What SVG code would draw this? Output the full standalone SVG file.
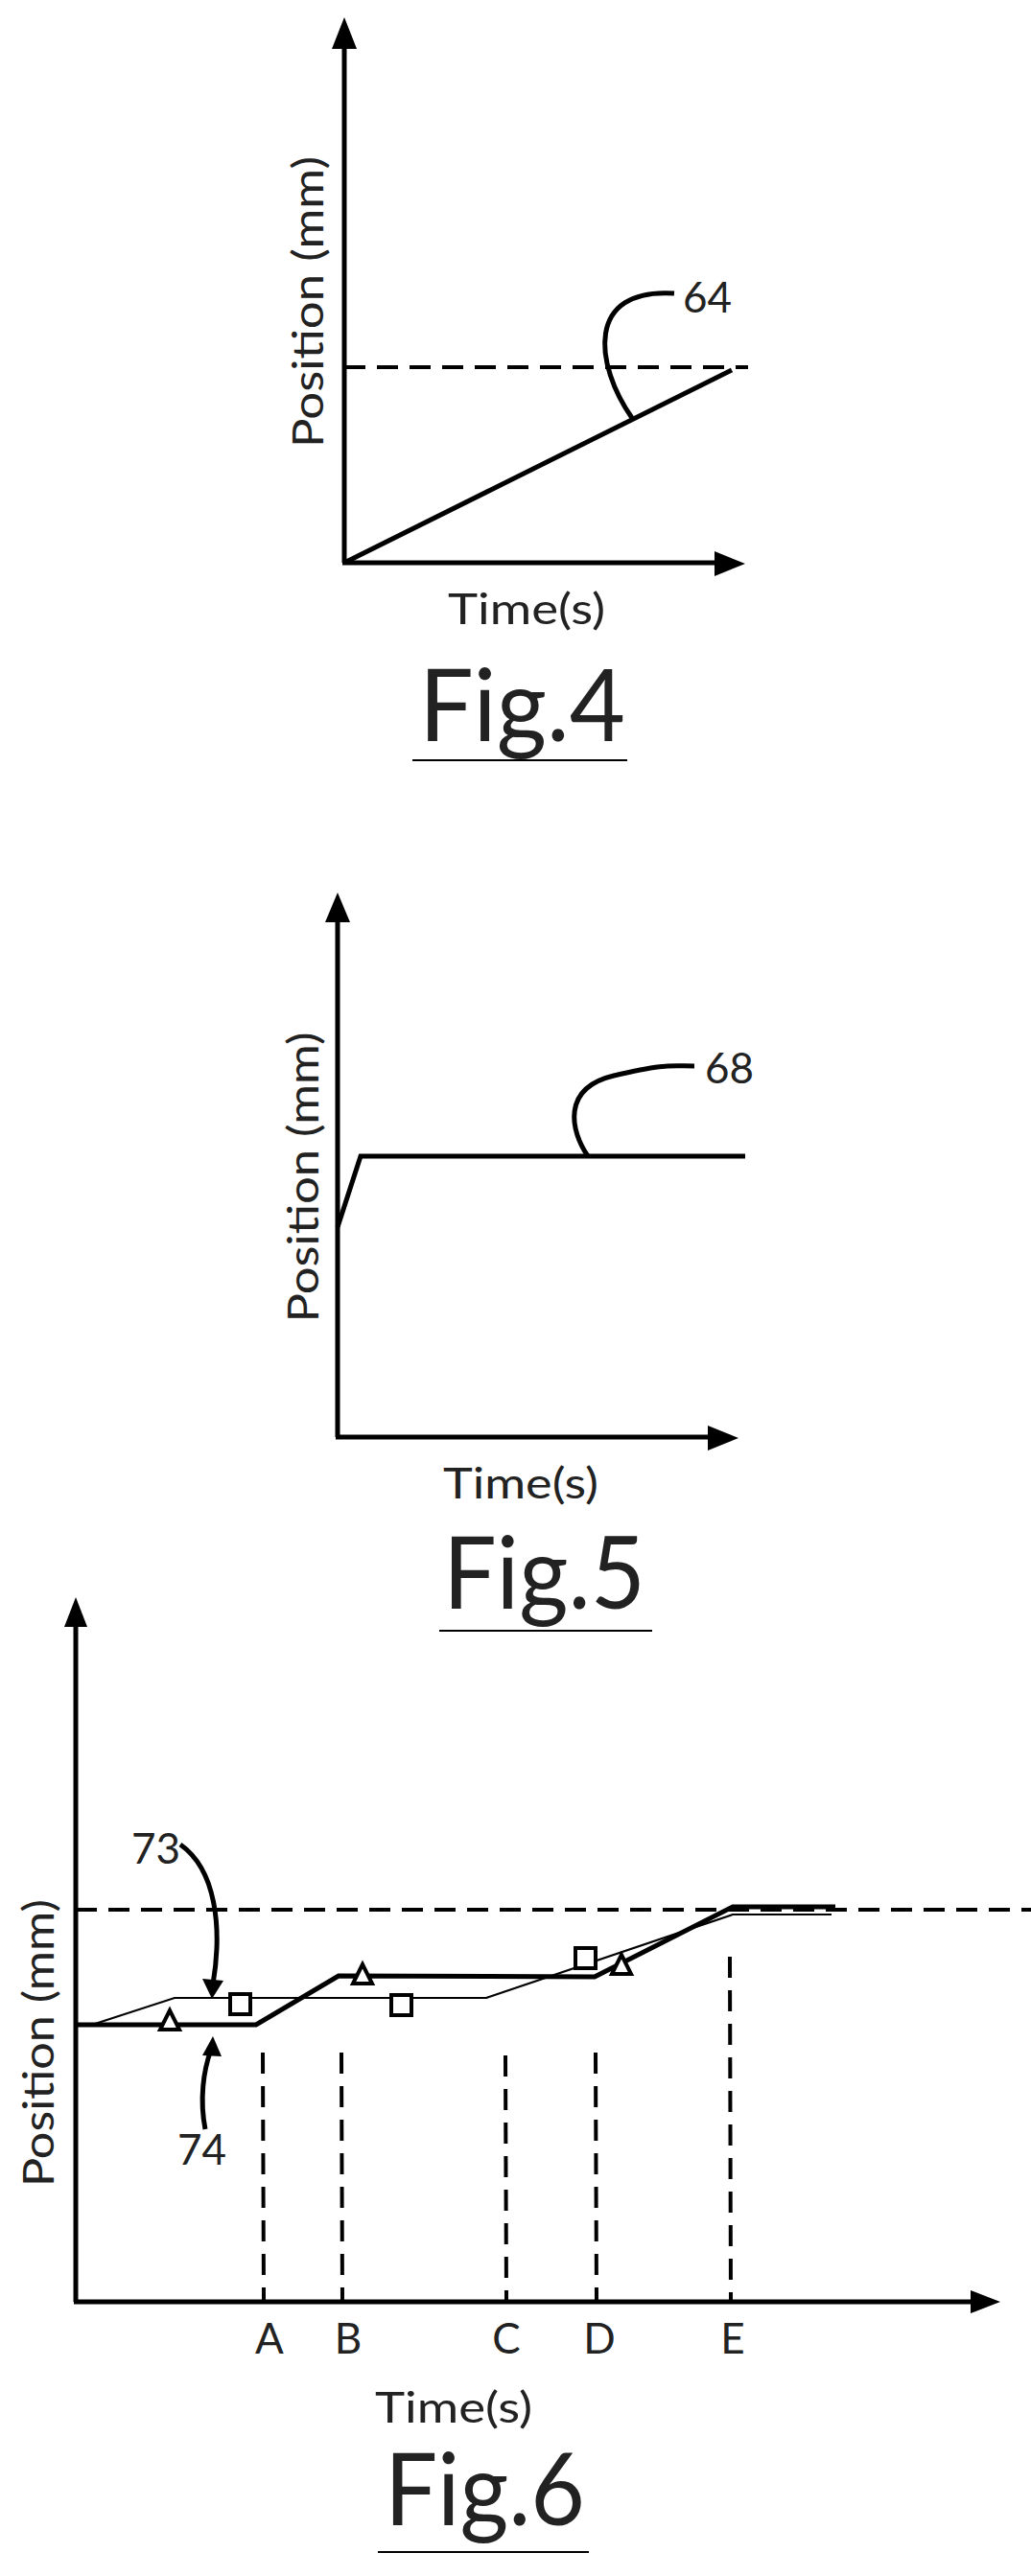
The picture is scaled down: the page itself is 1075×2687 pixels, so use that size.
<svg xmlns="http://www.w3.org/2000/svg" width="1075" height="2687" viewBox="0 0 1075 2687">
<style>
.ax{stroke:#000;stroke-width:5;fill:none}
.ln{stroke:#000;stroke-width:5;fill:none}
.thin{stroke:#000;stroke-width:2.2;fill:none}
.ds{stroke:#000;stroke-width:4;fill:none;stroke-dasharray:22 12}
.vd{stroke:#000;stroke-width:4;fill:none;stroke-dasharray:22 13}
.hd{fill:#000}
text{font-family:Lato,"Open Sans","Liberation Sans",sans-serif;fill:#222}
.lab{font-size:44px}
.fig{font-size:104px}
.mk{stroke:#000;stroke-width:4;fill:#fff}
</style>
<rect width="1075" height="2687" fill="#fff"/>
<g id="fig4">
<line class="ax" x1="359" y1="40" x2="359" y2="587"/>
<line class="ax" x1="357" y1="587" x2="755" y2="587"/>
<polygon class="hd" points="359,18 346,51 372,51"/>
<polygon class="hd" points="777,588 745,575 745,601"/>
<line class="ds" x1="359" y1="383" x2="780" y2="383"/>
<line class="ln" x1="359" y1="587" x2="763" y2="386"/>
<path class="ln" d="M659,436 C620,380 610,300 703,306"/>
<text class="lab" x="712" y="326">64</text>
<text class="lab" transform="translate(337,315) rotate(-90)" text-anchor="middle" textLength="304" lengthAdjust="spacingAndGlyphs">Position (mm)</text>
<text class="lab" x="467" y="651" textLength="164" lengthAdjust="spacingAndGlyphs">Time(s)</text>
<text class="fig" x="437" y="773" textLength="215" lengthAdjust="spacingAndGlyphs">Fig.4</text>
<line class="thin" x1="430" y1="793" x2="654" y2="793"/>
</g>
<g id="fig5">
<line class="ax" x1="352" y1="955" x2="352" y2="1499"/>
<line class="ax" x1="350" y1="1499" x2="750" y2="1499"/>
<polygon class="hd" points="352,931 339,962 365,962"/>
<polygon class="hd" points="770,1500 738,1487 738,1513"/>
<path class="ln" d="M352,1280 L376,1206 L777,1206"/>
<path class="ln" d="M613,1206 C595,1180 585,1135 640,1122 S700,1112 724,1112"/>
<text class="lab" x="735" y="1130">68</text>
<text class="lab" transform="translate(332,1228) rotate(-90)" text-anchor="middle" textLength="303" lengthAdjust="spacingAndGlyphs">Position (mm)</text>
<text class="lab" x="462" y="1563" textLength="162" lengthAdjust="spacingAndGlyphs">Time(s)</text>
<text class="fig" x="462" y="1678" textLength="211" lengthAdjust="spacingAndGlyphs">Fig.5</text>
<line class="thin" x1="458" y1="1701" x2="680" y2="1701"/>
</g>
<g id="fig6">
<line class="ax" x1="79" y1="1690" x2="79" y2="2401"/>
<line class="ax" x1="77" y1="2401" x2="1020" y2="2401"/>
<polygon class="hd" points="79,1666 67,1697 91,1697"/>
<polygon class="hd" points="1043,2401 1012,2389 1012,2413"/>
<line class="ds" x1="79" y1="1992" x2="1075" y2="1992"/>
<path class="ln" d="M79,2112 L267,2112 L353,2061 L620,2062 L764,1989 L871,1989"/>
<path class="thin" d="M96,2112 L182,2084 L507,2084 L764,1997 L867,1997"/>
<line class="vd" x1="274" y1="2141" x2="275" y2="2401"/>
<line class="vd" x1="356" y1="2141" x2="357" y2="2401"/>
<line class="vd" x1="527" y1="2144" x2="528" y2="2401"/>
<line class="vd" x1="621" y1="2141" x2="622" y2="2401"/>
<line class="vd" x1="761" y1="2041" x2="762" y2="2401"/>
<polygon class="mk" points="177,2097 167,2117 187,2117"/>
<polygon class="mk" points="378,2049 368,2069 388,2069"/>
<polygon class="mk" points="648,2039 638,2059 658,2059"/>
<rect class="mk" x="240" y="2080" width="21" height="21"/>
<rect class="mk" x="408" y="2081" width="21" height="21"/>
<rect class="mk" x="600" y="2032" width="21" height="21"/>
<path class="ln" d="M188,1924 C225,1950 232,2010 222,2070"/>
<polygon class="hd" points="221,2085 211,2064 233,2066"/>
<path class="ln" d="M214,2221 C208,2190 212,2160 220,2138"/>
<polygon class="hd" points="222,2124 211,2144 231,2145"/>
<text class="lab" x="137" y="1944">73</text>
<text class="lab" x="185" y="2258">74</text>
<text class="lab" x="281" y="2455" text-anchor="middle">A</text>
<text class="lab" x="363" y="2455" text-anchor="middle">B</text>
<text class="lab" x="528" y="2455" text-anchor="middle">C</text>
<text class="lab" x="625" y="2455" text-anchor="middle">D</text>
<text class="lab" x="764" y="2455" text-anchor="middle">E</text>
<text class="lab" transform="translate(56,2131) rotate(-90)" text-anchor="middle" textLength="300" lengthAdjust="spacingAndGlyphs">Position (mm)</text>
<text class="lab" x="391" y="2527" textLength="164" lengthAdjust="spacingAndGlyphs">Time(s)</text>
<text class="fig" x="401" y="2634" textLength="209" lengthAdjust="spacingAndGlyphs">Fig.6</text>
<line class="thin" x1="394" y1="2662" x2="614" y2="2662"/>
</g>
</svg>
